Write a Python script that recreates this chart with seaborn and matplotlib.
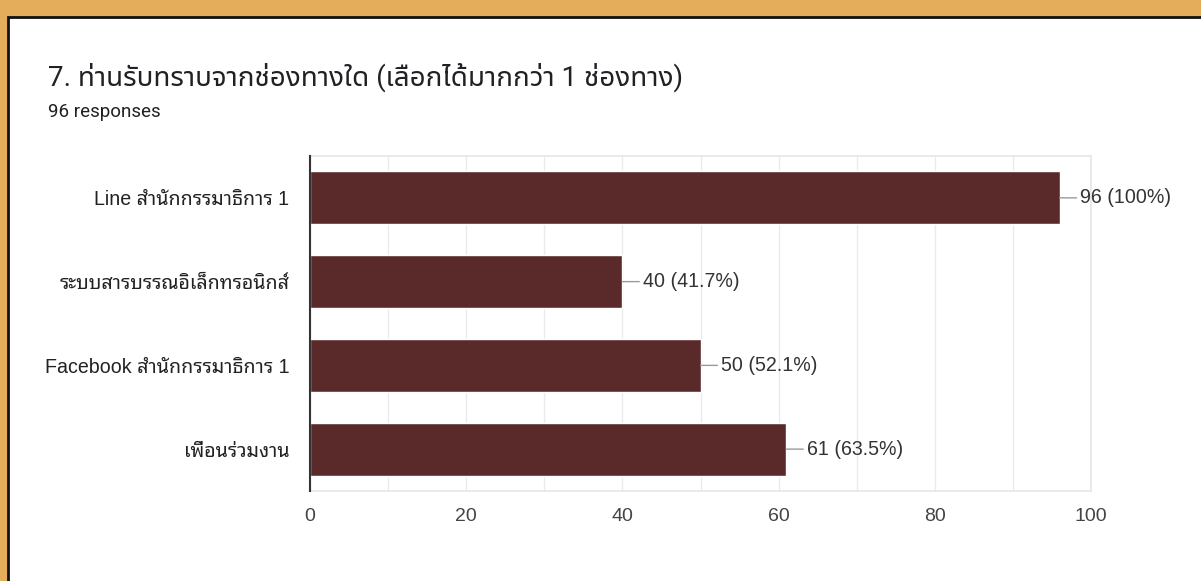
import matplotlib
matplotlib.use("Agg")
import matplotlib.pyplot as plt
import matplotlib.patches as mpatches
import pandas as pd
import seaborn as sns

# data
channels = [
    "Line สำนักกรรมาธิการ 1",
    "ระบบสารบรรณอิเล็กทรอนิกส์",
    "Facebook สำนักกรรมาธิการ 1",
    "เพื่อนร่วมงาน",
]
counts = [96, 40, 50, 61]
percents = ["100%", "41.7%", "52.1%", "63.5%"]
x_ticks = [0, 20, 40, 60, 80, 100]

title = "7. ท่านรับทราบจากช่องทางใด (เลือกได้มากกว่า 1 ช่องทาง)"
subtitle = "96 responses"

df = pd.DataFrame({"channel": channels, "count": counts})

sns.set_theme(style="white")
title_font = ["Roboto", "Noto Sans Thai UI", "DejaVu Sans"]
label_font = ["Liberation Sans", "Noto Sans Thai Looped", "Loma", "DejaVu Sans"]
plt.rcParams["font.family"] = label_font

W, H = 1201, 581
fig = plt.figure(figsize=(W / 100, H / 100), dpi=100, facecolor="#E4AD5B")

# white card with black border
card = mpatches.Rectangle((8 / W, -0.1), 1.2, 1 - 17 / H + 0.1,
                          transform=fig.transFigure, facecolor="white",
                          edgecolor="#111111", linewidth=2, zorder=-5)
fig.patches.append(card)

fig.text(48 / W, 1 - 86 / H, title, fontsize=20, color="#202124",
         family=title_font, va="baseline")
fig.text(48 / W, 1 - 117 / H, subtitle, fontsize=13.5, color="#202124",
         family=title_font, va="baseline")

ax = fig.add_axes([310 / W, 1 - 491 / H, 781 / W, 335 / H])
ax.set_facecolor("white")
sns.barplot(data=df, x="count", y="channel", orient="h", color="#5A2A2A",
            width=0.63, saturation=1, ax=ax, zorder=3)

ax.set_xlim(0, 100)
ax.set_xticks(x_ticks)
ax.set_xticks(range(0, 101, 10), minor=True)
ax.grid(True, axis="x", which="both", color="#EBEBEB", linewidth=1, zorder=0)
ax.set_axisbelow(True)
ax.set_xlabel("")
ax.set_ylabel("")
ax.tick_params(axis="x", which="both", length=0, pad=12, labelsize=14,
               labelcolor="#444444")
ax.tick_params(axis="y", length=0, pad=15, labelsize=14.1, labelcolor="#222222")

for side in ["top", "right", "bottom"]:
    ax.spines[side].set_color("#E6E6E6")
    ax.spines[side].set_linewidth(1.2)
ax.spines["left"].set_color("#333333")
ax.spines["left"].set_linewidth(1.5)
ax.spines["left"].set_zorder(5)

for i, (c, p) in enumerate(zip(counts, percents)):
    ax.annotate(f"{c} ({p})", xy=(c, i), xytext=(14.5, 0),
                textcoords="offset points", ha="left", va="center",
                fontsize=14.1, color="#333333", annotation_clip=False,
                arrowprops=dict(arrowstyle="-", color="#9A9A9A", lw=1,
                                shrinkA=0, shrinkB=0, relpos=(0, 0.5)))

fig.savefig("out.png", dpi=100, facecolor=fig.get_facecolor())
